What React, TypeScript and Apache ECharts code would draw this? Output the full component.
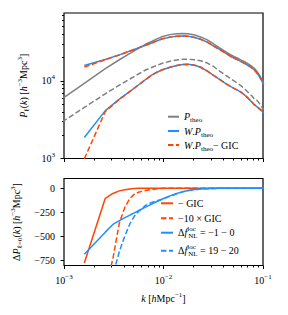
import React, { useEffect, useRef } from "react";
import * as echarts from "echarts";

// ---------- data ----------
const kTheo = [0.0006, 0.0011, 0.0016, 0.0026, 0.0036, 0.0046, 0.0056, 0.0066, 0.0076, 0.0086, 0.0096, 0.0116, 0.0136, 0.0156, 0.0176, 0.0206, 0.0236, 0.0276, 0.0316, 0.0366, 0.0416, 0.0466, 0.0516, 0.0566, 0.0616, 0.0666, 0.0716, 0.0766, 0.0816, 0.0866, 0.0916, 0.0966, 0.1016];
const pTheoUpper = [3913, 6646, 9288, 14350, 18730, 22570, 26240, 29630, 32190, 34760, 37000, 39480, 40550, 40780, 40430, 39010, 36890, 33760, 30160, 26710, 24080, 21910, 20460, 19410, 18300, 17390, 16440, 15500, 14560, 13330, 12020, 10670, 9342];
const pTheoLower = [2017, 3326, 4551, 6826, 8832, 10580, 12270, 13810, 14910, 15820, 16740, 17920, 18560, 18950, 19010, 18730, 18180, 16990, 15450, 13410, 11980, 10830, 9911, 9178, 8447, 7707, 7031, 6471, 5904, 5647, 5168, 4660, 4202];

const kW = [0.0016, 0.0026, 0.0036, 0.0046, 0.0056, 0.0066, 0.0076, 0.0086, 0.0096, 0.0116, 0.0136, 0.0156, 0.0176, 0.0206, 0.0236, 0.0276, 0.0316, 0.0366, 0.0416, 0.0466, 0.0516, 0.0566, 0.0616, 0.0666, 0.0716, 0.0766, 0.0816, 0.0866, 0.0916, 0.0966, 0.1016];
const wpUpper = [15780, 18890, 21650, 24300, 26630, 28760, 30790, 32770, 34660, 36660, 37540, 37870, 37650, 36230, 34360, 31620, 28340, 25410, 23040, 20960, 19580, 18560, 17500, 16590, 15680, 14780, 13890, 12750, 11490, 10210, 8940];
const wpLower = [1867, 4140, 5818, 7328, 8858, 10420, 11840, 12940, 13810, 15000, 15820, 16300, 16350, 15910, 15000, 13330, 11840, 10450, 9342, 8548, 7962, 7505, 6991, 6453, 5904, 5403, 4945, 4660, 4392, 4140, 3844];
const wpGicUpper = [15050, 18780, 21610, 24290, 26630, 28760, 30790, 32770, 34660, 36660, 37540, 37870, 37650, 36230, 34360, 31620, 28340, 25410, 23040, 20960, 19580, 18560, 17500, 16590, 15680, 14780, 13890, 12750, 11490, 10210, 8940];
const wpGicLower = [990, 4030, 5780, 7318, 8858, 10420, 11840, 12940, 13810, 15000, 15820, 16300, 16350, 15910, 15000, 13330, 11840, 10450, 9342, 8548, 7962, 7505, 6991, 6453, 5904, 5403, 4945, 4660, 4392, 4140, 3844];

const kDelta = [0.0016, 0.0026, 0.0031, 0.0036, 0.0041, 0.0046, 0.0051, 0.0056, 0.0066, 0.0076, 0.0086, 0.0096, 0.0116, 0.0136, 0.0156, 0.0186, 0.0216, 0.0256, 0.0306, 0.0366, 0.0436, 0.0516, 0.0616, 0.0736, 0.0866, 0.1016];
const minusGic = [-775, -105, -55, -28, -17, -8, -4, -2, -1, 0, 0, 0, 0, 0, 0, 0, 0, 0, 0, 0, 0, 0, 0, 0, 0, 0];
const minus10Gic = [-7750, -1050, -730, -360, -195, -105, -62, -42, -25, -14, -7, -3, -1, 0, 0, 0, 0, 0, 0, 0, 0, 0, 0, 0, 0, 0];
const dFnlA = [-683, -455, -375, -335, -305, -278, -255, -234, -196, -165, -138, -115, -80, -55, -36, -20, -12, -7, -4, -2, -1, 0, 0, 0, 0, 0];
const dFnlB = [-3000, -1400, -900, -655, -490, -368, -289, -241, -178, -148, -130, -118, -84, -58, -38, -21, -13, -7, -4, -2, -1, 0, 0, 0, 0, 0];

const kCut = 0.003;

const xMajor = [0.001, 0.01, 0.1];
const xMinor = [0.002, 0.003, 0.004, 0.005, 0.006, 0.007, 0.008, 0.009, 0.02, 0.03, 0.04, 0.05, 0.06, 0.07, 0.08, 0.09];
const yTopMajor = [1000, 10000];
const yTopMinor = [2000, 3000, 4000, 5000, 6000, 7000, 8000, 9000, 20000, 30000, 40000, 50000, 60000, 70000];
const yBotTicks = [-750, -500, -250, 0];

// ---------- styling ----------
const GRAY = "#808080";
const BLUE = "#1e90ff";
const ORANGE = "#ff4500";
const FONT = '"Liberation Serif", "DejaVu Serif", serif';
const FS = 10;

const rich: any = {
  i: { fontFamily: FONT, fontSize: FS, fontStyle: "italic", color: "#000", lineHeight: 14 },
  sup: { fontFamily: FONT, fontSize: 7, color: "#000", verticalAlign: "top" },
  sub: { fontFamily: FONT, fontSize: 7, color: "#000", verticalAlign: "bottom" },
  sl: { fontFamily: FONT, fontSize: 7, color: "#000", verticalAlign: "top", width: 1 },
};
const baseText: any = { fontFamily: FONT, fontSize: FS, color: "#000", lineHeight: 14, rich };

const legendLabels: Record<string, string> = {
  P_theo: "{i|P}{sub|theo}",
  "W.P_theo": "{i|W}.{i|P}{sub|theo}",
  "W.P_theo − GIC": "{i|W}.{i|P}{sub|theo}− GIC",
  "− GIC": "− GIC",
  "−10 × GIC": "−10 × GIC",
  fnlA: "Δ{i|f}{sl|loc}{sub|NL} = −1 − 0",
  fnlB: "Δ{i|f}{sl|loc}{sub|NL} = 19 − 20",
};

const zip = (xs: number[], ys: number[]) => xs.map((x, i) => [x, ys[i]]);

const powLabel = (v: number) => {
  const e = Math.round(Math.log10(v));
  return `10{sup|${e < 0 ? "−" + -e : e}}`;
};

const tickStyle = { color: "#000", width: 1 };

const markCut = {
  silent: true,
  symbol: ["none", "none"],
  label: { show: false },
  lineStyle: { type: "dotted", color: "#bbbbbb", width: 1 },
  data: [{ xAxis: kCut }],
  animation: false,
};

const line = (name: string, xi: number, yi: number, data: any, color: string, dashed: boolean, extra: any = {}) => ({
  name,
  type: "line",
  xAxisIndex: xi,
  yAxisIndex: yi,
  data,
  symbol: "none",
  showSymbol: false,
  clip: true,
  lineStyle: { color, width: 1.5, type: dashed ? [5.5, 2.5] : "solid" },
  itemStyle: { color },
  ...extra,
});

const legend = (name: string, left: number, top: number, w: number) => ({
  data: [name],
  left,
  top,
  orient: "vertical",
  padding: 0,
  itemWidth: w,
  itemHeight: 8,
  itemGap: 0,
  selectedMode: false,
  itemStyle: { color: "transparent", borderWidth: 0, opacity: 0 },
  formatter: (n: string) => legendLabels[n],
  textStyle: baseText,
});

const xAxisPair = (grid: number, labels: boolean) => [
  {
    type: "log",
    gridIndex: grid,
    min: 0.001,
    max: 0.1,
    position: "bottom",
    axisLine: { show: false, onZero: false },
    axisTick: { show: true, length: 3.5, lineStyle: tickStyle, customValues: xMajor },
    axisLabel: labels
      ? { show: true, customValues: xMajor, formatter: powLabel, margin: 8, ...baseText }
      : { show: false },
    splitLine: { show: false },
    ...(labels
      ? {
          name: "{i|k} [{i|h}Mpc{sup|−1}]",
          nameLocation: "middle",
          nameGap: 26,
          nameTextStyle: baseText,
        }
      : {}),
  },
  {
    type: "log",
    gridIndex: grid,
    min: 0.001,
    max: 0.1,
    position: "bottom",
    axisLine: { show: false, onZero: false },
    axisTick: { show: true, length: 2, lineStyle: tickStyle, customValues: xMinor },
    axisLabel: { show: false },
    splitLine: { show: false },
  },
];

const option: any = {
  animation: false,
  backgroundColor: "#ffffff",
  grid: [
    { left: 64, right: 25, top: 13, height: 145.5, show: true, borderColor: "#000", borderWidth: 1.2 },
    { left: 64, right: 25, top: 178.5, height: 87, show: true, borderColor: "#000", borderWidth: 1.2 },
  ],
  xAxis: [...xAxisPair(0, false), ...xAxisPair(1, true)],
  yAxis: [
    {
      type: "log",
      gridIndex: 0,
      min: 1000,
      max: 75000,
      position: "left",
      axisLine: { show: false, onZero: false },
      axisTick: { show: true, length: 3.5, lineStyle: tickStyle, customValues: yTopMajor },
      axisLabel: { show: true, customValues: yTopMajor, formatter: powLabel, margin: 9, ...baseText },
      splitLine: { show: false },
      name: "{i|P}{sub|ℓ}({i|k}) [{i|h}{sup|−3}Mpc{sup|3}]",
      nameLocation: "middle",
      nameRotate: 90,
      nameGap: 24,
      nameTextStyle: baseText,
    },
    {
      type: "log",
      gridIndex: 0,
      min: 1000,
      max: 75000,
      position: "left",
      axisLine: { show: false, onZero: false },
      axisTick: { show: true, length: 2, lineStyle: tickStyle, customValues: yTopMinor },
      axisLabel: { show: false },
      splitLine: { show: false },
    },
    {
      type: "value",
      gridIndex: 1,
      min: -800,
      max: 100,
      position: "left",
      axisLine: { show: false, onZero: false },
      axisTick: { show: true, length: 3.5, lineStyle: tickStyle, customValues: yBotTicks },
      axisLabel: {
        show: true,
        customValues: yBotTicks,
        formatter: (v: number) => String(v).replace("-", "−"),
        margin: 9,
        ...baseText,
      },
      splitLine: { show: false },
      name: "Δ{i|P}{sub|ℓ=0}({i|k}) [{i|h}{sup|−3}Mpc{sup|3}]",
      nameLocation: "middle",
      nameRotate: 90,
      nameGap: 26,
      nameTextStyle: baseText,
    },
  ],
  legend: [
    legend("P_theo", 167, 109.7, 11),
    legend("W.P_theo", 167, 124, 11),
    legend("W.P_theo − GIC", 167, 138, 11),
    legend("− GIC", 160, 196.3, 12),
    legend("−10 × GIC", 160, 211.3, 12),
    legend("fnlA", 160, 225.7, 12),
    legend("fnlB", 160, 243.7, 12),
  ],
  series: [
    line("P_theo", 0, 0, zip(kTheo, pTheoUpper), GRAY, false, { markLine: markCut }),
    line("P_theo", 0, 0, zip(kTheo, pTheoLower), GRAY, true),
    line("W.P_theo", 0, 0, zip(kW, wpUpper), BLUE, false),
    line("W.P_theo", 0, 0, zip(kW, wpLower), BLUE, false),
    line("W.P_theo − GIC", 0, 0, zip(kW, wpGicUpper), ORANGE, true),
    line("W.P_theo − GIC", 0, 0, zip(kW, wpGicLower), ORANGE, true),
    line("− GIC", 2, 2, zip(kDelta, minusGic), ORANGE, false, { markLine: markCut }),
    line("−10 × GIC", 2, 2, zip(kDelta, minus10Gic), ORANGE, true),
    line("fnlA", 2, 2, zip(kDelta, dFnlA), BLUE, false),
    line("fnlB", 2, 2, zip(kDelta, dFnlB), BLUE, true),
  ],
};

export default function App() {
  const ref = useRef<HTMLDivElement>(null);
  useEffect(() => {
    if (!ref.current) return;
    const chart = echarts.init(ref.current, null, { renderer: "svg" });
    chart.setOption(option);
    return () => chart.dispose();
  }, []);
  return (
    <div
      ref={ref}
      style={{ position: "fixed", left: 0, top: 0, width: 288, height: 315, background: "#fff" }}
    />
  );
}
